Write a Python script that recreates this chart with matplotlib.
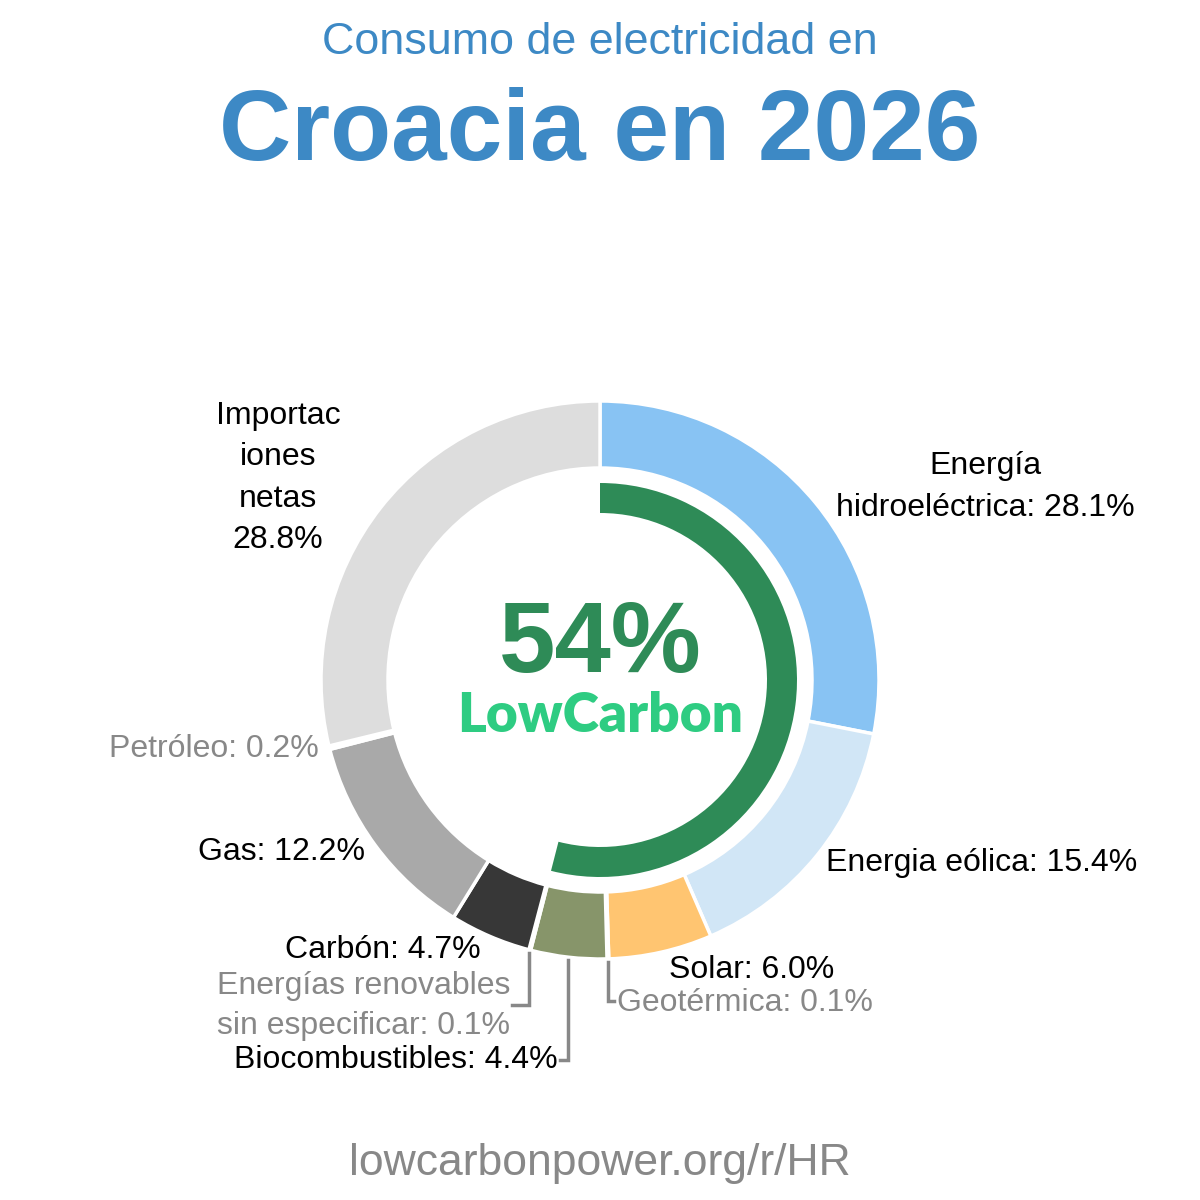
#!/usr/bin/env python3

import numpy as np
import matplotlib
matplotlib.use("Agg")
import matplotlib.pyplot as plt
from matplotlib.patches import Wedge

plt.rcParams['font.family'] = ['Liberation Sans', 'DejaVu Sans']

# data, clockwise from 12 o'clock
sources = ['Energía hidroeléctrica', 'Energia eólica', 'Solar', 'Geotérmica',
           'Biocombustibles', 'Energías renovables sin especificar', 'Carbón',
           'Gas', 'Petróleo', 'Importaciones netas']
shares = [28.1, 15.4, 6.0, 0.1, 4.4, 0.1, 4.7, 12.2, 0.2, 28.8]
colors = ['#88c3f3', '#d1e6f6', '#ffc571', '#d39b6a', '#87956a', '#9fc08a',
          '#373737', '#a9a9a9', '#222222', '#dddddd']
low_carbon = 54

title_small = 'Consumo de electricidad en'
title_big = 'Croacia en 2026'
footer = 'lowcarbonpower.org/r/HR'

W = 1200
def Y(y):
    return W - y

fig = plt.figure(figsize=(12, 12), dpi=100)
ax = fig.add_axes([0, 0, 1, 1])

cx, cy = 600, Y(680)
R_out, R_in = 279, 212

ax.pie(shares, colors=colors, startangle=90, counterclock=False,
       center=(cx, cy), radius=R_out, frame=True,
       wedgeprops=dict(width=R_out - R_in, edgecolor='white', linewidth=2.5))
ax.set_xlim(0, W)
ax.set_ylim(0, W)
ax.set_aspect('equal')
ax.axis('off')

# low carbon arc
ax.add_patch(Wedge((cx, cy), 197, 90 - 360 * low_carbon / 100, 90, width=30,
                   facecolor='#2e8b57', edgecolor='none'))

ax.text(600, Y(43), title_small, ha='center', va='center', fontsize=32.3, color='#3d89c5')
ax.text(600, Y(134), title_big, ha='center', va='center', fontsize=72,
        fontweight='bold', color='#3d89c5')
ax.text(600, Y(646), f'{low_carbon}%', ha='center', va='center', fontsize=73,
        fontweight='bold', color='#2e8b57')
ax.text(600, Y(716), 'LowCarbon', ha='center', va='center', fontsize=39.6,
        fontweight='heavy', color='#2ecc82', family='Lato')
ax.text(600, Y(1163), footer, ha='center', va='center', fontsize=32, color='#888888')

fs = 23
ls = 1.49
black = '#000000'
grey = '#888888'

def pct(i):
    return f'{shares[i]}%'

ax.text(278, Y(478), 'Importac\niones\nnetas\n' + pct(9), ha='center', va='center',
        fontsize=fs, color=black, linespacing=ls)
ax.text(985, Y(487), 'Energía\nhidroeléctrica: ' + pct(0), ha='center', va='center',
        fontsize=fs, color=black, linespacing=ls)
ax.text(982, Y(863), 'Energia eólica: ' + pct(1), ha='center', va='center', fontsize=fs, color=black)
ax.text(752, Y(970), 'Solar: ' + pct(2), ha='center', va='center', fontsize=fs, color=black)
ax.text(617, Y(1003), 'Geotérmica: ' + pct(3), ha='left', va='center', fontsize=fs, color=grey)
ax.text(558, Y(1060), 'Biocombustibles: ' + pct(4), ha='right', va='center', fontsize=fs, color=black)
ax.text(510, Y(1006), 'Energías renovables\nsin especificar: ' + pct(5), ha='right', va='center',
        fontsize=fs, color=grey, linespacing=1.42)
ax.text(383, Y(950), 'Carbón: ' + pct(6), ha='center', va='center', fontsize=fs, color=black)
ax.text(282, Y(852), 'Gas: ' + pct(7), ha='center', va='center', fontsize=fs, color=black)
ax.text(319, Y(749), 'Petróleo: ' + pct(8), ha='right', va='center', fontsize=fs, color=grey)

# leader lines for the small slices
cum = np.cumsum([0] + shares)
def edge_point(i, r):
    mid = (cum[i] + cum[i + 1]) / 2 / 100 * 2 * np.pi
    return cx + r * np.sin(mid), cy + r * np.cos(mid)

for i, y_end, x_end in [(3, 1001, 614), (4, 1060, 560), (5, 1005, 512)]:
    x0, y0 = edge_point(i, R_out + 3)
    ax.plot([x0, x0, x_end], [y0, Y(y_end), Y(y_end)], color='#888888', lw=2.5,
            solid_joinstyle='miter')

fig.savefig('out.png', dpi=100, facecolor='white')
